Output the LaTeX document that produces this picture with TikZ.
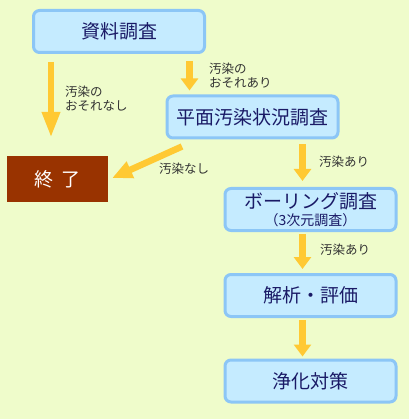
\documentclass[tikz,border=0pt]{standalone}
\usepackage{fontspec}
\setmainfont{Noto Sans CJK JP}
\usetikzlibrary{positioning,arrows.meta,calc}
\definecolor{paleGreen}{HTML}{EFFCCB}
\definecolor{paleBlue}{HTML}{C5EBFF}
\definecolor{edgeBlue}{HTML}{8CC6F6}
\definecolor{amber}{HTML}{FFC933}
\definecolor{brown}{HTML}{993300}
\definecolor{navy}{HTML}{1A1A66}
\definecolor{muted}{HTML}{333333}
\tikzset{
  stage/.style={rectangle, rounded corners=6pt, draw=edgeBlue, fill=paleBlue, line width=3pt,
                minimum width=171pt, minimum height=42pt, inner sep=0pt, align=center,
                text=navy, font=\fontsize{19}{22}\selectfont},
  stop/.style={rectangle, fill=brown, minimum width=101pt, minimum height=46pt, inner sep=0pt,
               text=white, font=\fontsize{19}{22}\selectfont},
  note/.style={anchor=north west, inner sep=0pt, align=left, text=muted,
               font=\fontsize{12.5}{13.5}\selectfont},
  flow/.style={-{Triangle[width=17pt,length=12pt]}, line width=6.5pt, draw=amber},
  longflow/.style={-{Triangle[width=17pt,length=26pt]}, line width=6.5pt, draw=amber}
}
\begin{document}
\begin{tikzpicture}[x=1pt,y=-1pt]
  \fill[paleGreen] (0,0) rectangle (409,419);
  \useasboundingbox (0,0) rectangle (409,419);

  \node[stage] (survey) at (119,31.5) {資料調査};
  \node[stage] (plane) at (252.5,117) {平面汚染状況調査};
  \node[stop] (finish) at (57.5,179) {終\hspace{0.4em}了};
  \node[stage] (boring) at (310.5,209.5) {ボーリング調査\\[-5pt]{\fontsize{14}{16}\selectfont （3次元調査）}};
  \node[stage] (analysis) at (310.5,295.5) {解析・評価};
  \node[stage] (cleanup) at (310.5,381) {浄化対策};

  \draw[longflow, shorten <=8pt, shorten >=18pt] ([xshift=-68pt]survey.south) -- ([xshift=-6.5pt]finish.north);
  \node[note] (noRisk) at (65,86) {汚染の\\おそれなし};

  \draw[flow, shorten <=7pt, shorten >=4pt] ([xshift=70.5pt]survey.south) -- ([xshift=-63pt]plane.north);
  \node[note] (risk) at (209,63) {汚染の\\おそれあり};

  \draw[flow, -{Triangle[width=17pt,length=20pt]}] ($(plane.south)+(-70.5,7)$) -- ($(finish.east)+(4,-1)$);
  \node[note] (clean) at (159,163) {汚染なし};

  \draw[flow, shorten <=5pt, shorten >=6pt] ([xshift=50pt]plane.south) -- ([xshift=-8pt]boring.north);
  \node[note] (dirty1) at (319,156) {汚染あり};

  \draw[flow, shorten <=2pt, shorten >=4pt] ([xshift=-8pt]boring.south) -- ([xshift=-8pt]analysis.north);
  \node[note] (dirty2) at (320,244) {汚染あり};

  \draw[flow, shorten <=2pt, shorten >=2pt] ([xshift=-8pt]analysis.south) -- ([xshift=-8pt]cleanup.north);
\end{tikzpicture}
\end{document}
